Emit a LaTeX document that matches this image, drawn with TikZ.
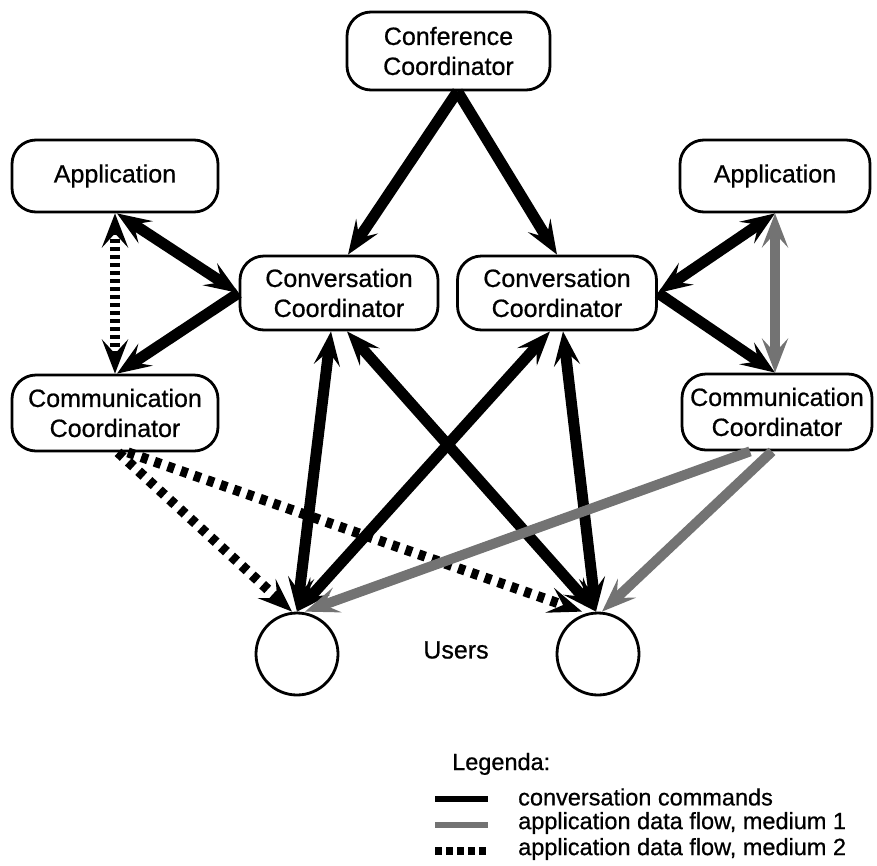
\documentclass[tikz,border=0pt]{standalone}
\usepackage{fontspec}
\setmainfont[FakeBold=0.7]{Liberation Sans}
\usetikzlibrary{arrows.meta}
\begin{document}
\begin{tikzpicture}[x=1pt,y=-1pt,
  box/.style={draw, line width=2.8pt, rounded corners=24pt, align=center,
    inner sep=0pt, font=\fontsize{25}{30}\selectfont},
  user/.style={draw, circle, line width=2.8pt, minimum size=82pt, inner sep=0pt},
  label/.style={inner sep=0pt, font=\fontsize{25}{30}\selectfont},
  legtext/.style={inner sep=0pt, anchor=west, font=\fontsize{23.5}{28}\selectfont},
  >={Stealth[length=34pt,width=26pt,inset=14pt]},
  cmd/.style={line width=11pt, black},
  medone/.style={line width=10pt, black!55},
  medtwo/.style={line width=10pt, black, dash pattern=on 7pt off 7pt},
]
\useasboundingbox (0,0) rectangle (877,865);

% coordinators and applications
\node[box, minimum width=203pt, minimum height=78pt] (conf) at (448.5,51) {Conference\\Coordinator};
\node[box, minimum width=206pt, minimum height=72pt] (appL) at (115,176) {Application};
\node[box, minimum width=190pt, minimum height=72pt] (appR) at (775,176) {Application};
\node[box, minimum width=198pt, minimum height=74pt] (convL) at (339,293) {Conversation\\Coordinator};
\node[box, minimum width=199pt, minimum height=74pt] (convR) at (557,293) {Conversation\\Coordinator};
\node[box, minimum width=206pt, minimum height=76pt] (commL) at (115,413) {Communication\\Coordinator};
\node[box, minimum width=190pt, minimum height=76pt] (commR) at (777,412) {Communication\\Coordinator};

% users
\node[user] (userL) at (297,654) {};
\node[user] (userR) at (598,654) {};
\node[label] (users) at (456,650) {Users};

% conversation commands
\draw[cmd,->] ([xshift=9pt]conf.south) -- ([xshift=9pt]convL.north);
\draw[cmd,->] ([xshift=9pt]conf.south) -- (convR.north);
\draw[cmd,<->] (convL.west) -- ([xshift=2pt]appL.south);
\draw[cmd,->] (convL.west) -- ([xshift=2pt]commL.north);
\draw[cmd,<->] (convR.east) -- (appR.south);
\draw[cmd,->] (convR.east) -- ([xshift=-2pt]commR.north);
\draw[cmd,<->] ([xshift=-8pt]convL.south) -- (userL.north);
\draw[cmd,<->] ([xshift=8pt]convL.south) -- ([xshift=-2pt]userR.north);
\draw[cmd,<->] ([xshift=-7pt]convR.south) -- (userL.north);
\draw[cmd,<->] ([xshift=6pt]convR.south) -- ([xshift=-2pt]userR.north);

% application data flow, medium 2
\draw[medtwo,<->,dash pattern=on 4.5pt off 3.5pt] (appL.south) -- (commL.north);
\draw[medtwo,->] ([xshift=3pt]commL.south) -- ([xshift=-5pt]userL.north);
\draw[medtwo,->] ([xshift=13pt]commL.south) -- ([xshift=-16pt]userR.north);

% application data flow, medium 1
\draw[medone,<->] (appR.south) -- ([xshift=-2pt]commR.north);
\draw[medone,->] ([xshift=-27pt]commR.south) -- ([xshift=8pt]userL.north);
\draw[medone,->] ([xshift=-5pt]commR.south) -- ([xshift=4pt]userR.north);

% legend
\node[inner sep=0pt, anchor=base west, font=\fontsize{23.5}{28}\selectfont] (leg) at (452,770) {Legenda:};
\coordinate (lA1) at (435,799); \coordinate (lA2) at (488,799);
\coordinate (lB1) at (435,825); \coordinate (lB2) at (488,825);
\coordinate (lC1) at (435,851); \coordinate (lC2) at (488,851);
\draw[line width=6pt, black] (lA1) -- (lA2);
\draw[line width=6pt, black!55] (lB1) -- (lB2);
\draw[line width=8pt, black, dash pattern=on 7pt off 4pt] (lC1) -- (lC2);
\node[legtext] (tA) at (518,797) {conversation commands};
\node[legtext] (tB) at (518,823) {application data flow, medium 1};
\node[legtext] (tC) at (518,849) {application data flow, medium 2};
\end{tikzpicture}
\end{document}
